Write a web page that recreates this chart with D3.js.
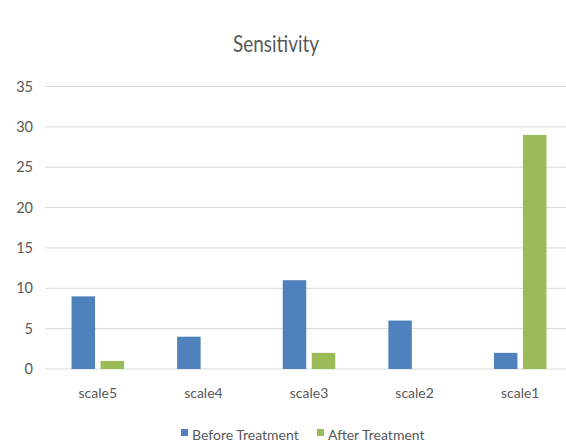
<!DOCTYPE html>
<html>
<head>
<meta charset="utf-8">
<script src="https://cdn.jsdelivr.net/npm/d3@7"></script>
<style>
  html, body { margin: 0; padding: 0; background: #fff; overflow: hidden; }
  svg { display: block; font-family: Lato, "Open Sans", sans-serif; }
</style>
</head>
<body>
<svg id="chart" width="566" height="445"></svg>
<script>
// Sensitivity scores per scale, before and after treatment
const categories = ["scale5", "scale4", "scale3", "scale2", "scale1"];
const seriesNames = ["Before Treatment", "After Treatment"];
const beforeTreatment = [9, 4, 11, 6, 2];
const afterTreatment = [1, 0, 2, 0, 29];
const yTicks = [0, 5, 10, 15, 20, 25, 30, 35];
const colors = ["#4F81BD", "#9BBB59"];

const svg = d3.select("#chart");
const plotLeft = 45, plotRight = 573, plotTop = 86.5, plotBottom = 369;
const textColor = "#595959";
const fontFamily = "Lato, 'Open Sans', sans-serif";

const x = d3.scaleBand().domain(categories).range([plotLeft, plotRight]);
const x1 = d3.scaleBand().domain(seriesNames).range([0, x.bandwidth()])
  .paddingInner(0.19).paddingOuter(0.915);
const y = d3.scaleLinear().domain([0, 35]).range([plotBottom, plotTop]);

// horizontal gridlines
svg.append("g").selectAll("line").data(yTicks).join("line")
  .attr("x1", plotLeft).attr("x2", plotRight)
  .attr("y1", d => y(d)).attr("y2", d => y(d))
  .attr("stroke", "#d9d9d9").attr("stroke-width", 1);

// value axis labels
const yAxis = svg.append("g").attr("transform", `translate(${plotLeft},0)`)
  .call(d3.axisLeft(y).tickValues(yTicks).tickSize(0).tickPadding(12));
yAxis.select(".domain").remove();
yAxis.selectAll("text").attr("fill", textColor).style("font-size", "14.5px")
  .style("font-family", fontFamily);

// category axis labels
const xAxis = svg.append("g").attr("transform", `translate(0,${plotBottom})`)
  .call(d3.axisBottom(x).tickSize(0).tickPadding(19));
xAxis.select(".domain").remove();
xAxis.selectAll("text").attr("fill", textColor).style("font-size", "14px")
  .style("font-family", fontFamily);

// grouped bars
const rows = categories.map((c, i) => ({ cat: c, vals: [beforeTreatment[i], afterTreatment[i]] }));
const groups = svg.append("g").selectAll("g").data(rows).join("g")
  .attr("transform", d => `translate(${x(d.cat)},0)`);
groups.selectAll("rect").data(d => d.vals.map((v, j) => ({ v, s: seriesNames[j], j })))
  .join("rect")
  .attr("x", d => x1(d.s))
  .attr("width", x1.bandwidth())
  .attr("y", d => y(d.v))
  .attr("height", d => y(0) - y(d.v))
  .attr("fill", d => colors[d.j]);

// title
svg.append("text").attr("x", 276).attr("y", 52).attr("text-anchor", "middle")
  .attr("fill", textColor).style("font-size", "23px")
  .attr("textLength", 86).attr("lengthAdjust", "spacingAndGlyphs")
  .text("Sensitivity");

// legend
const legendItems = [{ name: seriesNames[0], x: 181 }, { name: seriesNames[1], x: 317 }];
const lg = svg.append("g").selectAll("g").data(legendItems).join("g")
  .attr("transform", d => `translate(${d.x},436)`);
lg.append("rect").attr("x", 0).attr("y", -7).attr("width", 7).attr("height", 7)
  .attr("fill", (d, i) => colors[i]);
lg.append("text").attr("x", 11).attr("y", 4).attr("fill", textColor)
  .style("font-size", "14px").text(d => d.name);
</script>
</body>
</html>
